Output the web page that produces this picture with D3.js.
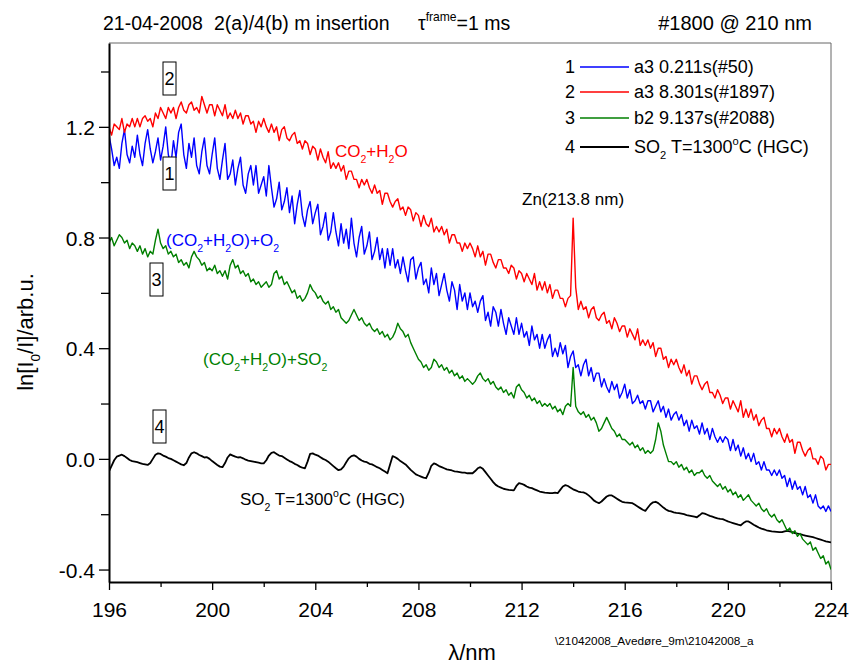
<!DOCTYPE html>
<html><head><meta charset="utf-8">
<script src="https://cdn.jsdelivr.net/npm/d3@7"></script>
<style>body{margin:0;background:#fff} text{font-family:"Liberation Sans",Arial,sans-serif}</style>
</head><body><svg id="c" width="853" height="666"></svg>
<script>
// wavelength grid: 196.0 .. 224.0 nm in 0.1 nm steps
const lambdaStart = 196, lambdaCount = 281, lambdaStep = 0.1;

// 1: a3 0.211s(#50)  (blue)
const series1 = [
1.17,1.12,1.06,1.09,1.05,1.14,1.19,1.10,1.07,1.13,
1.09,1.17,1.10,1.06,1.14,1.19,1.12,1.07,1.11,1.16,
1.08,1.13,1.20,1.10,1.06,1.15,1.09,1.18,1.21,1.10,
1.05,1.14,1.09,1.16,1.06,1.03,1.11,1.16,1.06,1.03,
1.10,1.16,1.05,1.01,1.08,1.14,1.01,1.03,1.08,0.99,
1.05,1.09,0.99,0.96,1.03,1.06,0.99,1.06,0.96,0.99,
1.02,0.95,1.06,0.98,0.91,0.94,1.00,0.90,0.93,0.98,
0.89,0.95,0.85,0.92,0.97,0.88,0.84,0.90,0.93,0.85,
0.89,0.92,0.81,0.84,0.89,0.79,0.82,0.89,0.82,0.77,
0.85,0.78,0.83,0.76,0.87,0.78,0.73,0.80,0.84,0.74,
0.77,0.82,0.72,0.75,0.80,0.72,0.76,0.69,0.76,0.70,
0.76,0.69,0.72,0.67,0.73,0.68,0.64,0.72,0.73,0.65,
0.69,0.71,0.63,0.65,0.60,0.69,0.63,0.67,0.59,0.63,
0.67,0.61,0.57,0.64,0.61,0.54,0.63,0.57,0.60,0.54,
0.60,0.55,0.57,0.53,0.57,0.59,0.50,0.53,0.48,0.55,
0.53,0.48,0.54,0.49,0.45,0.51,0.48,0.45,0.51,0.45,
0.49,0.44,0.46,0.41,0.48,0.43,0.45,0.40,0.45,0.40,
0.43,0.45,0.37,0.40,0.37,0.42,0.38,0.41,0.33,0.37,
0.39,0.33,0.34,0.30,0.34,0.36,0.30,0.33,0.28,0.31,
0.31,0.26,0.29,0.26,0.24,0.28,0.25,0.27,0.22,0.24,
0.27,0.22,0.25,0.20,0.21,0.23,0.20,0.21,0.18,0.21,
0.21,0.17,0.19,0.21,0.17,0.19,0.15,0.18,0.14,0.16,
0.17,0.14,0.16,0.12,0.14,0.10,0.14,0.11,0.12,0.09,
0.13,0.09,0.11,0.07,0.11,0.08,0.06,0.08,0.06,0.08,
0.07,0.03,0.07,0.03,0.05,0.01,0.04,0.00,0.02,-0.01,
0.02,-0.02,-0.01,-0.04,-0.01,-0.04,-0.04,-0.06,-0.04,-0.06,
-0.04,-0.07,-0.06,-0.10,-0.07,-0.11,-0.08,-0.11,-0.10,-0.13,
-0.10,-0.14,-0.13,-0.16,-0.13,-0.17,-0.18,-0.17,-0.19,-0.17,
-0.19];

// 2: a3 8.301s(#1897)  (red)
const series2 = [
1.20,1.17,1.21,1.20,1.19,1.23,1.18,1.21,1.20,1.23,
1.20,1.23,1.20,1.23,1.24,1.22,1.23,1.20,1.25,1.23,
1.27,1.25,1.23,1.27,1.25,1.27,1.23,1.27,1.29,1.26,
1.25,1.28,1.29,1.26,1.27,1.25,1.31,1.28,1.25,1.28,
1.28,1.24,1.28,1.26,1.24,1.28,1.23,1.25,1.23,1.26,
1.23,1.25,1.21,1.24,1.24,1.21,1.22,1.18,1.22,1.20,
1.23,1.20,1.18,1.21,1.18,1.20,1.15,1.19,1.20,1.16,
1.15,1.17,1.18,1.14,1.15,1.12,1.15,1.14,1.10,1.13,
1.12,1.08,1.12,1.09,1.07,1.11,1.05,1.07,1.05,1.07,
1.04,1.06,1.01,1.04,1.04,1.01,1.01,0.98,1.01,0.99,
1.01,0.98,0.96,0.99,0.96,0.97,0.92,0.96,0.96,0.93,
0.91,0.93,0.94,0.90,0.91,0.88,0.91,0.90,0.86,0.89,
0.88,0.84,0.88,0.85,0.84,0.87,0.82,0.84,0.82,0.84,
0.81,0.83,0.78,0.81,0.81,0.78,0.78,0.75,0.78,0.76,
0.78,0.76,0.73,0.77,0.73,0.75,0.70,0.74,0.74,0.71,
0.69,0.72,0.72,0.69,0.69,0.67,0.70,0.69,0.65,0.68,
0.67,0.64,0.67,0.65,0.63,0.67,0.61,0.64,0.61,0.64,
0.60,0.63,0.58,0.61,0.61,0.58,0.58,0.55,0.58,0.59,
0.87,0.62,0.54,0.57,0.54,0.55,0.51,0.54,0.55,0.51,
0.50,0.52,0.53,0.49,0.50,0.47,0.51,0.49,0.46,0.48,
0.48,0.44,0.47,0.45,0.43,0.47,0.41,0.43,0.41,0.43,
0.40,0.42,0.37,0.40,0.40,0.36,0.37,0.33,0.36,0.34,
0.36,0.33,0.31,0.34,0.30,0.32,0.27,0.30,0.30,0.27,
0.25,0.27,0.28,0.24,0.24,0.22,0.25,0.23,0.20,0.22,
0.22,0.18,0.21,0.19,0.17,0.21,0.15,0.18,0.15,0.18,
0.14,0.16,0.12,0.14,0.15,0.11,0.11,0.08,0.11,0.09,
0.11,0.08,0.06,0.09,0.06,0.07,0.02,0.06,0.06,0.03,
0.01,0.03,0.04,0.00,0.00,-0.02,0.01,0.00,-0.04,-0.02,
-0.02];

// 3: b2 9.137s(#2088)  (green)
const series3 = [
0.78,0.80,0.77,0.79,0.81,0.80,0.78,0.79,0.76,0.78,
0.77,0.75,0.77,0.74,0.76,0.73,0.75,0.74,0.79,0.83,
0.78,0.76,0.77,0.74,0.75,0.73,0.74,0.71,0.72,0.70,
0.71,0.69,0.73,0.75,0.73,0.72,0.70,0.71,0.68,0.69,
0.68,0.70,0.67,0.68,0.66,0.68,0.65,0.70,0.72,0.69,
0.70,0.67,0.68,0.66,0.67,0.64,0.65,0.63,0.64,0.62,
0.63,0.64,0.62,0.63,0.67,0.68,0.65,0.66,0.63,0.64,
0.62,0.60,0.61,0.58,0.59,0.57,0.58,0.60,0.63,0.61,
0.60,0.58,0.59,0.57,0.56,0.57,0.54,0.55,0.53,0.54,
0.51,0.50,0.49,0.50,0.52,0.54,0.52,0.50,0.51,0.49,
0.48,0.49,0.47,0.46,0.47,0.45,0.46,0.44,0.45,0.43,
0.44,0.46,0.49,0.47,0.46,0.44,0.45,0.42,0.40,0.38,
0.36,0.35,0.33,0.34,0.32,0.33,0.36,0.35,0.33,0.34,
0.32,0.33,0.31,0.32,0.30,0.31,0.29,0.30,0.28,0.29,
0.28,0.27,0.28,0.30,0.31,0.29,0.28,0.29,0.27,0.28,
0.26,0.25,0.26,0.24,0.25,0.23,0.24,0.22,0.26,0.27,
0.25,0.24,0.22,0.23,0.21,0.22,0.20,0.21,0.19,0.20,
0.19,0.20,0.18,0.19,0.17,0.18,0.16,0.19,0.20,0.19,
0.33,0.19,0.17,0.16,0.17,0.15,0.16,0.14,0.15,0.13,
0.10,0.11,0.13,0.15,0.13,0.11,0.10,0.08,0.09,0.07,
0.07,0.06,0.05,0.06,0.04,0.05,0.03,0.04,0.02,0.03,
0.02,0.03,0.07,0.13,0.10,0.05,0.02,-0.01,-0.01,-0.02,
-0.01,-0.03,-0.02,-0.04,-0.03,-0.05,-0.04,-0.06,-0.05,-0.05,
-0.04,-0.06,-0.07,-0.06,-0.08,-0.09,-0.10,-0.09,-0.11,-0.10,
-0.12,-0.11,-0.13,-0.12,-0.14,-0.13,-0.15,-0.14,-0.13,-0.15,
-0.16,-0.17,-0.16,-0.18,-0.19,-0.18,-0.20,-0.21,-0.20,-0.22,
-0.23,-0.22,-0.24,-0.26,-0.25,-0.27,-0.26,-0.28,-0.27,-0.29,
-0.30,-0.31,-0.30,-0.33,-0.32,-0.34,-0.36,-0.35,-0.38,-0.37,
-0.40];

// 4: SO2 T=1300°C (HGC)  (black)
const series4 = [
-0.045,-0.025,-0.005,0.008,0.012,0.015,0.010,0.003,-0.004,-0.008,
-0.010,-0.012,-0.015,-0.018,-0.020,-0.022,-0.015,0.000,0.015,0.020,
0.018,0.012,0.008,0.003,0.000,-0.005,-0.010,-0.015,-0.020,-0.023,
-0.015,0.005,0.020,0.024,0.020,0.014,0.010,0.005,0.006,0.000,
-0.008,-0.015,-0.022,-0.028,-0.030,-0.015,0.005,0.016,0.012,0.008,
0.005,0.006,0.002,-0.003,-0.006,-0.008,-0.010,-0.012,-0.014,-0.016,
-0.016,-0.005,0.012,0.022,0.024,0.018,0.012,0.010,0.004,-0.002,
-0.008,-0.012,-0.018,-0.022,-0.028,-0.032,-0.034,-0.010,0.018,0.020,
0.015,0.012,0.006,0.000,-0.004,-0.010,-0.018,-0.026,-0.034,-0.041,
-0.038,-0.028,-0.012,0.002,0.010,0.013,0.008,0.000,-0.006,-0.010,
-0.012,-0.018,-0.020,-0.025,-0.030,-0.034,-0.040,-0.046,-0.052,-0.020,
0.010,0.006,0.000,-0.008,-0.014,-0.020,-0.030,-0.040,-0.048,-0.056,
-0.060,-0.064,-0.068,-0.070,-0.050,-0.025,-0.016,-0.020,-0.026,-0.030,
-0.034,-0.038,-0.040,-0.042,-0.045,-0.046,-0.048,-0.050,-0.050,-0.052,
-0.052,-0.052,-0.044,-0.034,-0.030,-0.036,-0.048,-0.060,-0.072,-0.084,
-0.094,-0.100,-0.104,-0.108,-0.110,-0.112,-0.113,-0.114,-0.098,-0.088,
-0.090,-0.094,-0.100,-0.104,-0.106,-0.110,-0.114,-0.118,-0.120,-0.122,
-0.123,-0.124,-0.124,-0.122,-0.124,-0.112,-0.100,-0.095,-0.098,-0.104,
-0.110,-0.114,-0.118,-0.120,-0.121,-0.125,-0.132,-0.140,-0.150,-0.156,
-0.160,-0.154,-0.145,-0.136,-0.132,-0.132,-0.138,-0.144,-0.150,-0.155,
-0.157,-0.158,-0.159,-0.160,-0.166,-0.172,-0.178,-0.184,-0.188,-0.176,
-0.164,-0.157,-0.155,-0.160,-0.168,-0.176,-0.183,-0.188,-0.190,-0.193,
-0.195,-0.196,-0.198,-0.200,-0.203,-0.205,-0.207,-0.209,-0.211,-0.204,
-0.196,-0.198,-0.202,-0.206,-0.209,-0.212,-0.215,-0.217,-0.218,-0.222,
-0.226,-0.229,-0.232,-0.235,-0.238,-0.240,-0.232,-0.226,-0.226,-0.232,
-0.238,-0.243,-0.248,-0.252,-0.255,-0.258,-0.260,-0.262,-0.263,-0.264,
-0.265,-0.265,-0.262,-0.260,-0.262,-0.265,-0.268,-0.270,-0.272,-0.275,
-0.277,-0.279,-0.281,-0.283,-0.286,-0.289,-0.292,-0.295,-0.298,-0.300,
-0.302];

const seriesNames = ["1","2","3","4"];
const seriesColors = ["#0000ff","#ff0000","#007f00","#000000"];
const legendTexts = ["a3 0.211s(#50)","a3 8.301s(#1897)","b2 9.137s(#2088)","SO2 T=1300°C (HGC)"];
const xTicks = [196,200,204,208,212,216,220,224];
const xMinorTicks = [198,202,206,210,214,218,222];
const yTicks = [-0.4,0.0,0.4,0.8,1.2];
const yTickLabels = ["-0.4","0.0","0.4","0.8","1.2"];
const yMinorTicks = [-0.2,0.2,0.6,1.0,1.4];

const wavelengths = d3.range(lambdaCount).map(i => +(lambdaStart + i*lambdaStep).toFixed(1));
const allSeries = [series1, series2, series3, series4];

const svg = d3.select("#c");
const L = 109, R = 831, T = 43, B = 582;
const x = d3.scaleLinear().domain([196,224]).range([L,R]);
const y = d3.scaleLinear().domain([-0.445,1.503]).range([B,T]);

svg.append("defs").append("clipPath").attr("id","clip")
  .append("rect").attr("x",L).attr("y",T).attr("width",R-L).attr("height",B-T);

svg.append("path").attr("d",`M${L},${T}H${R}V${B}`).attr("fill","none").attr("stroke","#666").attr("stroke-width",1);

const line = d3.line().x((d,i)=>x(wavelengths[i])).y(d=>y(d));
const gLines = svg.append("g").attr("clip-path","url(#clip)");
[3,2,0,1].forEach(k=>{
  gLines.append("path").datum(allSeries[k]).attr("d",line)
    .attr("fill","none").attr("stroke",seriesColors[k])
    .attr("stroke-width", k===3 ? 1.8 : 1.4).attr("stroke-linejoin","round");
});

function styleAxis(g){
  g.select(".domain").attr("stroke","#000").attr("stroke-width",2);
  g.selectAll(".tick line").attr("stroke","#000").attr("stroke-width",1.3);
  g.selectAll(".tick text").attr("font-family","'Liberation Sans',Arial,sans-serif").attr("font-size",21).attr("fill","#000");
}
const gx = svg.append("g").attr("transform",`translate(0,${B})`)
  .call(d3.axisBottom(x).tickValues(xTicks).tickFormat(d3.format("d")).tickSize(8).tickSizeOuter(0).tickPadding(12));
styleAxis(gx);
const gxm = svg.append("g").attr("transform",`translate(0,${B})`)
  .call(d3.axisBottom(x).tickValues(xMinorTicks).tickFormat("").tickSize(5).tickSizeOuter(0));
styleAxis(gxm); gxm.select(".domain").remove();

const gy = svg.append("g").attr("transform",`translate(${L},0)`)
  .call(d3.axisLeft(y).tickValues(yTicks).tickFormat((d,i)=>yTickLabels[i]).tickSize(10).tickSizeOuter(0).tickPadding(4));
styleAxis(gy);
gy.selectAll(".tick text").attr("dy","0.36em");
const gym = svg.append("g").attr("transform",`translate(${L},0)`)
  .call(d3.axisLeft(y).tickValues(yMinorTicks).tickFormat("").tickSize(8).tickSizeOuter(0));
styleAxis(gym); gym.select(".domain").remove();

function rich(parent, px, py, parts, size, color, anchor){
  const t = parent.append("text").attr("x",px).attr("y",py).attr("font-size",size)
    .attr("fill",color).attr("text-anchor",anchor||"start");
  let shift = 0;
  parts.forEach(([s,k])=>{
    const target = k==="sub" ? size*0.33 : k==="sup" ? -size*0.45 : 0;
    t.append("tspan").attr("dy",target-shift).attr("font-size",k==="n"?size:size*0.62).text(s);
    shift = target;
  });
  return t;
}

// titles
svg.append("text").attr("x",103).attr("y",30).attr("font-size",19.5).text("21-04-2008");
svg.append("text").attr("x",214).attr("y",30).attr("font-size",19.5).text("2(a)/4(b) m insertion");
rich(svg, 418, 30, [["τ","n"],["frame","sup"],["=1 ms","n"]], 19.5, "#000");
svg.append("text").attr("x",812).attr("y",30).attr("font-size",20).attr("text-anchor","end").text("#1800 @ 210 nm");

// axis titles
rich(svg.append("g").attr("transform","translate(33,332) rotate(-90)"), 0, 0,
  [["ln[I","n"],["0","sub"],["/I]/arb.u.","n"]], 22, "#000", "middle");
svg.append("text").attr("x",472).attr("y",660).attr("font-size",22).attr("text-anchor","middle").text("λ/nm");
svg.append("text").attr("x",555).attr("y",645).attr("font-size",11.8).text("\\21042008_Avedøre_9m\\21042008_a");

// legend
const legRows = [67,92,118,147];
legRows.forEach((ry,i)=>{
  svg.append("text").attr("x",565).attr("y",ry+6).attr("font-size",18).text(seriesNames[i]);
  svg.append("line").attr("x1",580).attr("x2",629).attr("y1",ry).attr("y2",ry)
    .attr("stroke",seriesColors[i]).attr("stroke-width", i===3?2:1.5);
});
[0,1,2].forEach(i=>{
  svg.append("text").attr("x",634).attr("y",legRows[i]+6).attr("font-size",18).text(legendTexts[i]);
});
rich(svg, 634, legRows[3]+6, [["SO","n"],["2","sub"],[" T=1300","n"],["o","sup"],["C (HGC)","n"]], 18, "#000");

// annotation labels
rich(svg, 335, 157, [["CO","n"],["2","sub"],["+H","n"],["2","sub"],["O","n"]], 17, "#ff0000");
rich(svg, 166, 246, [["(CO","n"],["2","sub"],["+H","n"],["2","sub"],["O)+O","n"],["2","sub"]], 17, "#0000ff");
rich(svg, 203, 365, [["(CO","n"],["2","sub"],["+H","n"],["2","sub"],["O)+SO","n"],["2","sub"]], 17, "#007f00");
rich(svg, 240, 505, [["SO","n"],["2","sub"],[" T=1300","n"],["o","sup"],["C (HGC)","n"]], 17, "#000");
svg.append("text").attr("x",522).attr("y",205).attr("font-size",17).text("Zn(213.8 nm)");

// boxed curve numbers
const boxes = [["2",163,62],["1",163,157],["3",150,263],["4",153,410]];
boxes.forEach(([s,bx,by])=>{
  svg.append("rect").attr("x",bx).attr("y",by).attr("width",13).attr("height",33)
    .attr("fill","#fff").attr("stroke","#000").attr("stroke-width",1);
  svg.append("text").attr("x",bx+6.5).attr("y",by+23).attr("font-size",18).attr("text-anchor","middle").text(s);
});
</script></body></html>
